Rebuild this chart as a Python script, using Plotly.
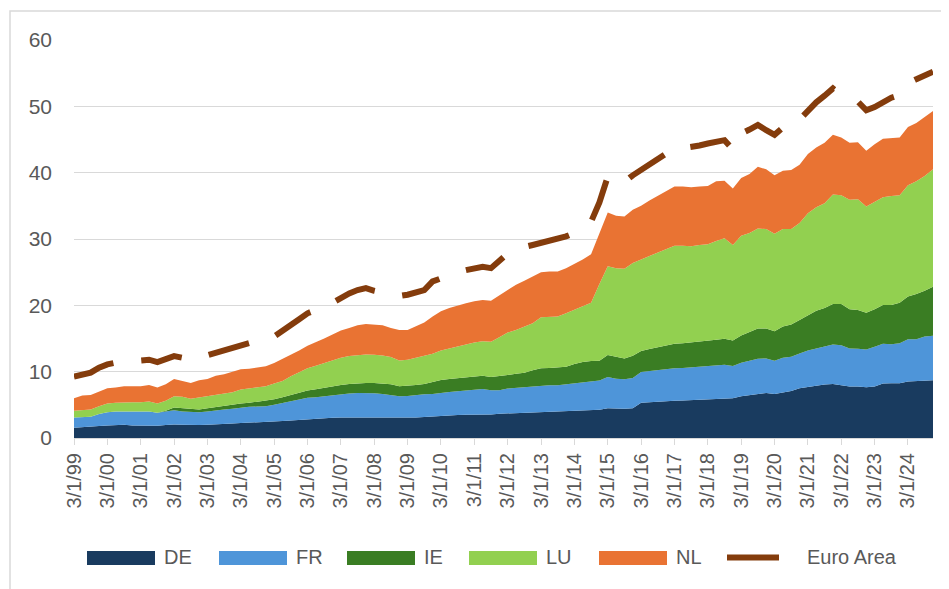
import pandas as pd
import plotly.graph_objects as go

# Quarterly observations, 1999Q1 .. 2024Q4
dates = pd.date_range("1999-03-01", periods=104, freq="3MS")
categories = [f"{d.month}/{d.day}/{d.strftime('%y')}" for d in dates]
tick_labels = [c for c in categories if c.startswith("3/1/")]

DE = [1.55, 1.6, 1.65, 1.8, 1.9, 1.95, 2.0, 1.9, 1.85, 1.85, 1.85, 1.95, 2.05, 2.0, 1.95, 1.95,
      2.0, 2.1, 2.15, 2.2, 2.25, 2.3, 2.3, 2.35, 2.45, 2.55, 2.65, 2.75, 2.85, 2.9, 3.0, 3.05,
      3.1, 3.1, 3.1, 3.1, 3.1, 3.1, 3.05, 3.0, 3.05, 3.1, 3.15, 3.25, 3.3, 3.4, 3.45, 3.5,
      3.5, 3.55, 3.55, 3.65, 3.7, 3.75, 3.8, 3.85, 3.9, 3.9, 3.9, 3.95, 4.0, 4.05, 4.1, 4.25,
      4.5, 4.4, 4.4, 4.5, 5.3, 5.4, 5.5, 5.55, 5.6, 5.65, 5.7, 5.75, 5.8, 5.9, 6.0, 6.0,
      6.3, 6.5, 6.7, 6.8, 6.65, 6.9, 7.1, 7.5, 7.7, 7.9, 8.05, 8.15, 8.0, 7.75, 7.75, 7.65,
      7.75, 8.2, 8.25, 8.25, 8.5, 8.55, 8.65, 8.7]
FR = [1.55, 1.55, 1.55, 1.8, 2.0, 2.05, 2.0, 2.1, 2.15, 2.15, 1.95, 2.05, 2.15, 2.0, 1.95, 1.95,
      2.0, 2.1, 2.15, 2.2, 2.35, 2.4, 2.45, 2.45, 2.55, 2.7, 2.9, 3.1, 3.2, 3.25, 3.3, 3.4,
      3.55, 3.6, 3.7, 3.7, 3.65, 3.55, 3.45, 3.3, 3.3, 3.4, 3.45, 3.4, 3.55, 3.55, 3.6, 3.7,
      3.8, 3.85, 3.65, 3.55, 3.75, 3.8, 3.85, 4.0, 4.05, 4.05, 4.05, 4.15, 4.25, 4.4, 4.45, 4.4,
      4.7, 4.55, 4.45, 4.55, 4.65, 4.7, 4.75, 4.85, 4.9, 4.9, 4.95, 5.0, 5.05, 5.05, 5.05, 4.85,
      5.05, 5.15, 5.25, 5.2, 5.0, 5.2, 5.15, 5.25, 5.5, 5.6, 5.75, 5.95, 6.0, 5.75, 5.7, 5.7,
      6.0, 6.0, 5.9, 6.05, 6.4, 6.35, 6.65, 6.7]
IE = [0, 0, 0, 0, 0, 0, 0, 0, 0, 0, 0, 0.1, 0.4, 0.5, 0.4, 0.4,
      0.5, 0.5, 0.6, 0.6, 0.6, 0.6, 0.75, 0.8, 0.85, 0.9, 0.95, 0.95, 1.1, 1.2, 1.3, 1.35,
      1.35, 1.45, 1.45, 1.5, 1.55, 1.6, 1.6, 1.5, 1.5, 1.5, 1.55, 1.85, 1.9, 1.95, 2.0, 2.0,
      2.0, 2.0, 2.0, 2.1, 2.05, 2.15, 2.2, 2.35, 2.55, 2.6, 2.65, 2.65, 2.9, 3.0, 3.05, 3.0,
      3.3, 3.25, 3.15, 3.35, 3.15, 3.3, 3.45, 3.6, 3.7, 3.75, 3.75, 3.75, 3.75, 3.85, 3.9, 3.85,
      4.1, 4.35, 4.55, 4.5, 4.45, 4.7, 4.85, 5.05, 5.3, 5.7, 5.8, 6.1, 6.2, 5.9, 5.85, 5.55,
      5.65, 5.85, 5.9, 6.1, 6.45, 6.8, 6.9, 7.4]
LU = [1.0, 1.05, 1.1, 1.2, 1.3, 1.3, 1.4, 1.4, 1.4, 1.5, 1.4, 1.5, 1.7, 1.7, 1.6, 1.8,
      1.7, 1.7, 1.7, 1.9, 2.1, 2.2, 2.2, 2.2, 2.35, 2.45, 2.8, 3.1, 3.35, 3.55, 3.7, 3.9,
      4.1, 4.2, 4.25, 4.3, 4.25, 4.2, 4.1, 3.9, 3.95, 4.1, 4.25, 4.2, 4.45, 4.6, 4.75, 5.0,
      5.1, 5.2, 5.3, 5.9, 6.4, 6.6, 6.95, 7.1, 7.7, 7.65, 7.7, 8.05, 8.15, 8.35, 8.8, 11.55,
      13.4, 13.4, 13.5, 14.0, 13.8, 14.0, 14.2, 14.4, 14.8, 14.7, 14.5, 14.6, 14.6, 14.9, 15.15, 14.4,
      15.05, 14.9, 15.1, 15.0, 14.7, 14.7, 14.4, 14.6, 15.4, 15.6, 15.8, 16.5, 16.4, 16.5, 16.7, 16.0,
      16.2, 16.25, 16.45, 16.2, 16.75, 17.0, 17.3, 17.7]
NL = [1.9, 2.2, 2.2, 2.2, 2.3, 2.3, 2.4, 2.4, 2.4, 2.5, 2.4, 2.5, 2.6, 2.4, 2.4, 2.6,
      2.7, 3.0, 3.0, 3.1, 3.05, 2.95, 2.9, 3.0, 3.1, 3.3, 3.3, 3.3, 3.4, 3.5, 3.7, 3.9,
      4.1, 4.25, 4.5, 4.6, 4.55, 4.55, 4.4, 4.6, 4.5, 4.7, 5.0, 5.6, 5.9, 6.1, 6.2, 6.1,
      6.2, 6.2, 6.2, 6.3, 6.5, 6.8, 6.9, 7.1, 6.8, 6.9, 6.8, 6.8, 6.9, 7.1, 7.3, 7.8,
      8.1, 7.9, 7.9, 8.0, 8.1, 8.4, 8.6, 8.7, 8.9, 8.9, 8.9, 8.8, 8.8, 9.0, 8.7, 8.5,
      8.7, 8.9, 9.3, 9.0, 8.8, 8.8, 8.9, 8.8, 8.9, 9.0, 9.1, 9.0, 8.7, 8.6, 8.6, 8.4,
      8.7, 8.8, 8.7, 8.7, 8.8, 8.8, 8.9, 8.8]
EURO_AREA = [9.25, 9.65, 9.85, 10.6, 11.1, 11.35, 11.5, 11.6, 11.75, 11.8, 11.45, 11.9, 12.35, 12.1, 11.75, 12.1,
             12.5, 12.7, 13.15, 13.6, 14.0, 14.3, 14.6, 14.75, 15.3, 16.1, 17.0, 17.9, 18.8, 19.2, 19.8, 20.4,
             21.2, 21.8, 22.3, 22.6, 22.2, 21.9, 21.6, 21.4, 21.6, 21.9, 22.3, 23.6, 24.1, 24.6, 25.0, 25.3,
             25.5, 25.8, 25.6, 26.7, 27.8, 28.1, 28.8, 29.1, 29.4, 29.7, 29.9, 30.4, 30.9, 31.7, 32.6, 35.5,
             39.4, 38.9, 38.6, 39.6, 40.4, 41.1, 42.0, 42.9, 43.7, 43.7, 43.8, 44.1, 44.4, 44.6, 44.9, 43.5,
             45.9, 46.5, 47.2, 46.4, 45.7, 46.8, 46.8, 48.0, 49.4, 50.6, 51.6, 52.7, 51.7, 50.9, 50.7, 49.4,
             49.9, 50.7, 51.3, 51.7, 53.5, 54.1, 54.7, 55.2]

series = [("DE", DE, "#193B5F"), ("FR", FR, "#4E95D9"), ("IE", IE, "#3A7D23"),
          ("LU", LU, "#92D050"), ("NL", NL, "#E97333")]
EA_NAME, EA_COLOR = "Euro Area", "#843C0C"

FONT = "Liberation Sans, Arial, sans-serif"
GREY = "#595959"

# page geometry (the page body adds an 8px offset)
PL, PR, PT, PB = 74, 933, 40, 438
def px(x):
    return (x - PL) / (PR - PL)
def py(y):
    return (PB - y) / (PB - PT)

fig = go.Figure()
for name, vals, color in series:
    fig.add_trace(go.Scatter(
        x=categories, y=vals, name=name, mode="lines", stackgroup="one",
        line=dict(width=0, color=color), fillcolor=color, showlegend=False,
    ))
fig.add_trace(go.Scatter(
    x=categories, y=EURO_AREA, name=EA_NAME, mode="lines", showlegend=False,
    line=dict(color=EA_COLOR, width=6, dash="42px,28px"),
))

# legend built from shapes + text
shapes = [dict(type="rect", xref="paper", yref="paper",
               x0=px(10), x1=px(965), y0=py(600), y1=py(11),
               line=dict(color="#D9D9D9", width=1.5), fillcolor="rgba(0,0,0,0)", layer="below")]
annotations = []
swatch_x = [87, 219, 347, 469, 599]
for (name, _, color), sx in zip(series, swatch_x):
    shapes.append(dict(type="rect", xref="paper", yref="paper",
                       x0=px(sx), x1=px(sx + 68), y0=py(565), y1=py(551),
                       line=dict(width=0), fillcolor=color))
    annotations.append(dict(text=name, xref="paper", yref="paper", x=px(sx + 75), y=py(557),
                            xanchor="left", yanchor="middle", showarrow=False,
                            font=dict(size=20, color=GREY, family=FONT)))
shapes.append(dict(type="line", xref="paper", yref="paper",
                   x0=px(727), x1=px(779), y0=py(557.5), y1=py(557.5),
                   line=dict(color=EA_COLOR, width=6)))
annotations.append(dict(text=EA_NAME, xref="paper", yref="paper", x=px(805), y=py(557),
                        xanchor="left", yanchor="middle", showarrow=False,
                        font=dict(size=20, color=GREY, family=FONT)))

fig.update_layout(
    width=949, height=589,
    margin=dict(l=PL - 8, r=949 + 8 - PR, t=PT - 8, b=589 + 8 - PB),
    paper_bgcolor="white", plot_bgcolor="white",
    font=dict(family=FONT, size=20, color=GREY),
    showlegend=False,
    xaxis=dict(type="category", range=[0, 103], tickmode="array",
               tickvals=tick_labels, ticktext=tick_labels, tickangle=-90,
               ticks="outside", ticklen=6, tickcolor="#D9D9D9",
               showline=True, linecolor="#D9D9D9", linewidth=1, showgrid=False,
               tickfont=dict(size=20, color=GREY)),
    yaxis=dict(range=[0, 60], dtick=10, showgrid=True, gridcolor="#D9D9D9", gridwidth=1,
               zeroline=False, showline=False, ticks="", ticklabelstandoff=21,
               tickfont=dict(size=21, color=GREY)),
    shapes=shapes,
    annotations=annotations,
)

fig.write_html("out.html")
